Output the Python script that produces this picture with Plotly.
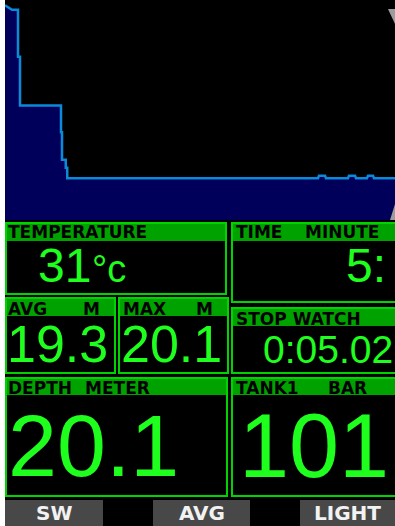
import plotly.graph_objects as go

W, H = 395, 526

# ── Data ──────────────────────────────────────────────────────────────────────
# dive profile: time (s) vs depth (m)
profile_time = [0, 5.6, 10.4, 10.4, 12, 12, 44.8, 44.8, 45.6, 45.6, 48.6, 48.6,
                49.8, 49.8, 250.4, 251.2, 256, 256.8, 274.4, 275.2, 280, 280.8,
                289.6, 290.4, 294.4, 295.2, 312]
profile_depth = [0.6, 1.1, 1.1, 6.4, 6.4, 11.9, 11.9, 14.9, 14.9, 18.0, 18.0, 18.9,
                 18.9, 20.1, 20.1, 19.8, 19.8, 20.1, 20.1, 19.8, 19.8, 20.1,
                 20.1, 19.8, 19.8, 20.1, 20.1]
max_depth_axis = 24.8
time_axis = [0, 312]

temperature = "31"
temp_unit = "°c"
dive_time = "5:"
avg_depth = "19.3"
max_depth = "20.1"
stop_watch = "0:05.02"
depth = "20.1"
tank_pressure = "101"
buttons = ["SW", "AVG", "LIGHT"]

# ── Colours ───────────────────────────────────────────────────────────────────
BORDER = "#00D400"
HEADER = "#00A200"
DIGIT = "#1EFF1E"
LINE = "#0A8AD8"
FILL = "#00005A"
BTN = "#484848"

fig = go.Figure()

# baseline for the filled area, then the profile itself
fig.add_trace(go.Scatter(
    x=time_axis, y=[max_depth_axis, max_depth_axis], mode="lines",
    line=dict(width=0, color=FILL), hoverinfo="skip", showlegend=False,
))
fig.add_trace(go.Scatter(
    x=profile_time, y=profile_depth, mode="lines",
    line=dict(width=2.5, color=LINE), fill="tonexty", fillcolor=FILL,
    showlegend=False,
))

shapes = []
annotations = []


def rect(x0, y0, x1, y1, fill=None, line=None, width=0, layer="below"):
    shapes.append(dict(
        type="rect", xref="x2", yref="y2", x0=x0, y0=y0, x1=x1, y1=y1,
        fillcolor=fill, line=dict(color=line or "rgba(0,0,0,0)", width=width),
        layer=layer,
    ))


def text(s, x, y, size, color, anchor="left", bold=False, family="Liberation Sans"):
    annotations.append(dict(
        text=s, x=x, y=y, xref="x2", yref="y2", xanchor=anchor, yanchor="middle",
        showarrow=False, borderpad=0,
        font=dict(family=family, size=size, color=color,
                  weight="bold" if bold else "normal"),
    ))


def panel(x0, y0, x1, y1, head_h):
    rect(x0, y0, x1, y0 + head_h, fill=HEADER)
    rect(x0 + 1, y0 + 1, x1 - 1, y1 - 1, line=BORDER, width=2)


def header(s, x, y):
    text(s, x, y, 17, "#000000", bold=True, family="DejaVu Sans")


# white strip on the left
rect(0, 0, 5, H, fill="#FFFFFF")

# panels
panel(5, 222, 227, 295, 19)
panel(231, 222, 398, 303, 19)
panel(5, 297, 116, 374, 19)
panel(118, 297, 229, 374, 19)
panel(231, 307, 398, 374, 19)
panel(5, 377, 228, 497, 18)
panel(231, 377, 398, 497, 18)

# headers
header("TEMPERATURE", 7, 231.5)
header("TIME", 235, 231.5)
header("MINUTE", 304, 231.5)
header("AVG", 7, 309)
header("M", 82, 309)
header("MAX", 122, 309)
header("M", 195, 309)
header("STOP WATCH", 235, 318.5)
header("DEPTH", 7, 387.5)
header("METER", 84, 387.5)
header("TANK1", 235, 387.5)
header("BAR", 327, 387.5)

# values
text(temperature, 37, 265, 48, DIGIT)
text(temp_unit, 91, 269, 38, DIGIT)
text(dive_time, 345, 265.5, 48, DIGIT)
text(avg_depth, 6, 343.5, 52, DIGIT)
text(max_depth, 120, 343.5, 52, DIGIT)
text(stop_watch, 394, 349, 39, DIGIT, anchor="right")
text(depth, 7, 445.5, 88, DIGIT)
text(tank_pressure, 238, 445.5, 90, DIGIT)

# soft buttons
btn_boxes = [(5, 103), (153, 250), (300, 398)]
for label, (bx0, bx1) in zip(buttons, btn_boxes):
    rect(bx0, 500, bx1, 527, fill=BTN)
    text(label, (bx0 + min(bx1, W)) / 2, 513, 20, "#F2F2F2", anchor="center",
         bold=True, family="DejaVu Sans")

# scroll arrows at the right of the profile
for path in ["M 388 9 L 399 9 L 395 24 Z", "M 395 204 L 390 220 L 400 220 Z"]:
    shapes.append(dict(type="path", path=path, xref="x2", yref="y2",
                       fillcolor="#9C9C9C", line=dict(width=0), layer="above"))

fig.update_layout(
    width=W, height=H,
    margin=dict(l=0, r=0, t=0, b=0),
    paper_bgcolor="#000000", plot_bgcolor="rgba(0,0,0,0)",
    showlegend=False,
    xaxis=dict(domain=[5 / W, 1], range=time_axis, visible=False, fixedrange=True),
    yaxis=dict(domain=[1 - 220 / H, 1], range=[max_depth_axis, 0], visible=False,
               fixedrange=True),
    xaxis2=dict(domain=[0, 1], range=[0, W], visible=False, anchor="y2"),
    yaxis2=dict(domain=[0, 1], range=[H, 0], visible=False, anchor="x2"),
    shapes=shapes, annotations=annotations,
)

# the page's default body margin would push the 395x526 figure off-screen
fig.write_html("out.html", config={"displayModeBar": False},
               post_script="document.body.style.margin='0';")
